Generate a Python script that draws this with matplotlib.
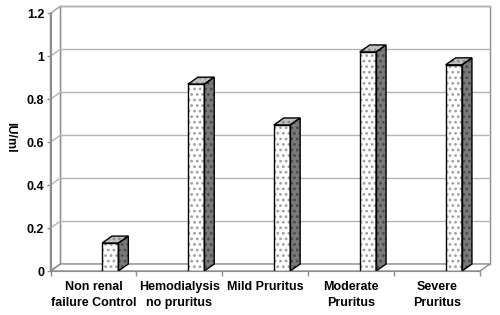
import matplotlib
matplotlib.use("Agg")
import matplotlib.pyplot as plt
from matplotlib.patches import Polygon

categories = ["Non renal\nfailure Control", "Hemodialysis\nno pruritus", "Mild Pruritus",
              "Moderate\nPruritus", "Severe\nPruritus"]
values = [0.13, 0.87, 0.68, 1.02, 0.96]
yticks = [0, 0.2, 0.4, 0.6, 0.8, 1.0, 1.2]
ytick_labels = ["0", "0.2", "0.4", "0.6", "0.8", "1", "1.2"]
ylabel = "IU/ml"

plt.rcParams['font.family'] = ['Liberation Sans', 'DejaVu Sans']
plt.rcParams['hatch.linewidth'] = 1.2

W, H = 500, 315
fig = plt.figure(figsize=(W / 100, H / 100), dpi=100)
ax = fig.add_axes([50.5 / W, 44 / H, 439.5 / W, 265 / H])

n = len(categories)
dx, dy = 0.116, 0.0326
ymax = yticks[-1]
ax.set_xlim(0, n + dx)
ax.set_ylim(0, 1.234)

wall_edge = "#8c8c8c"
grid_col = "#b4b4b4"

# walls and floor
ax.add_patch(Polygon([(dx, dy), (n + dx, dy), (n + dx, ymax + dy), (dx, ymax + dy)],
                     closed=True, facecolor="white", edgecolor=wall_edge, lw=1.0, zorder=0,
                     clip_on=False))
ax.add_patch(Polygon([(0, 0), (dx, dy), (dx, ymax + dy), (0, ymax)],
                     closed=True, facecolor="white", edgecolor=wall_edge, lw=1.0, zorder=0,
                     clip_on=False))
ax.add_patch(Polygon([(0, 0), (n, 0), (n + dx, dy), (dx, dy)],
                     closed=True, facecolor="white", edgecolor=wall_edge, lw=1.0, zorder=0,
                     clip_on=False))
for v in yticks[1:]:
    ax.plot([dx, n + dx], [v + dy, v + dy], color=grid_col, lw=1.0, zorder=1, clip_on=False)
    ax.plot([0, dx], [v, v + dy], color=grid_col, lw=1.0, zorder=1, clip_on=False)
ax.plot([0, dx], [0, dy], color=wall_edge, lw=1.0, zorder=1)

# bars
off, bw = 0.60, 0.19
xs = [i + off for i in range(n)]
ax.bar(xs, values, width=bw, align='edge', color="white", edgecolor="#a0a0a0",
       hatch="...", lw=0, zorder=3)
ax.bar(xs, values, width=bw, align='edge', fill=False, edgecolor="black", lw=1.0, zorder=5)
for x0, v in zip(xs, values):
    side = [(x0 + bw, 0), (x0 + bw + dx, dy), (x0 + bw + dx, v + dy), (x0 + bw, v)]
    top = [(x0, v), (x0 + bw, v), (x0 + bw + dx, v + dy), (x0 + dx, v + dy)]
    ax.add_patch(Polygon(side, closed=True, facecolor="#7a7a7a", edgecolor="#4a4a4a",
                         hatch="...", lw=0, zorder=3))
    ax.add_patch(Polygon(top, closed=True, facecolor="#c0c0c0", edgecolor="#8a8a8a",
                         hatch="...", lw=0, zorder=3))
    ax.add_patch(Polygon(side, closed=True, fill=False, edgecolor="black", lw=1.0, zorder=5))
    ax.add_patch(Polygon(top, closed=True, fill=False, edgecolor="black", lw=1.0, zorder=5))

# axes
for s in ["top", "right"]:
    ax.spines[s].set_visible(False)
ax.spines["left"].set_bounds(0, ymax)
ax.spines["bottom"].set_bounds(0, n)
ax.spines["left"].set_color(wall_edge)
ax.spines["bottom"].set_color(wall_edge)
ax.spines["left"].set_zorder(2)
ax.spines["bottom"].set_zorder(2)

ax.set_yticks(yticks)
ax.set_yticklabels(ytick_labels, fontsize=9, fontweight="bold")
ax.tick_params(axis='y', direction='out', length=3, width=1, color=wall_edge, pad=1.5)

ax.set_xticks(list(range(n + 1)))
ax.set_xticklabels([])
ax.set_xticks([i + 0.5 for i in range(n)], minor=True)
ax.set_xticklabels(categories, minor=True, fontsize=9, fontweight="bold", linespacing=1.5)
ax.tick_params(axis='x', which='major', direction='out', length=3.5, width=1, color=wall_edge)
ax.tick_params(axis='x', which='minor', length=0, pad=7)

fig.text(10 / W, 1 - 137 / H, ylabel, rotation=-90, fontsize=9, fontweight="bold",
         ha="center", va="center")

fig.savefig("out.png", dpi=100)
